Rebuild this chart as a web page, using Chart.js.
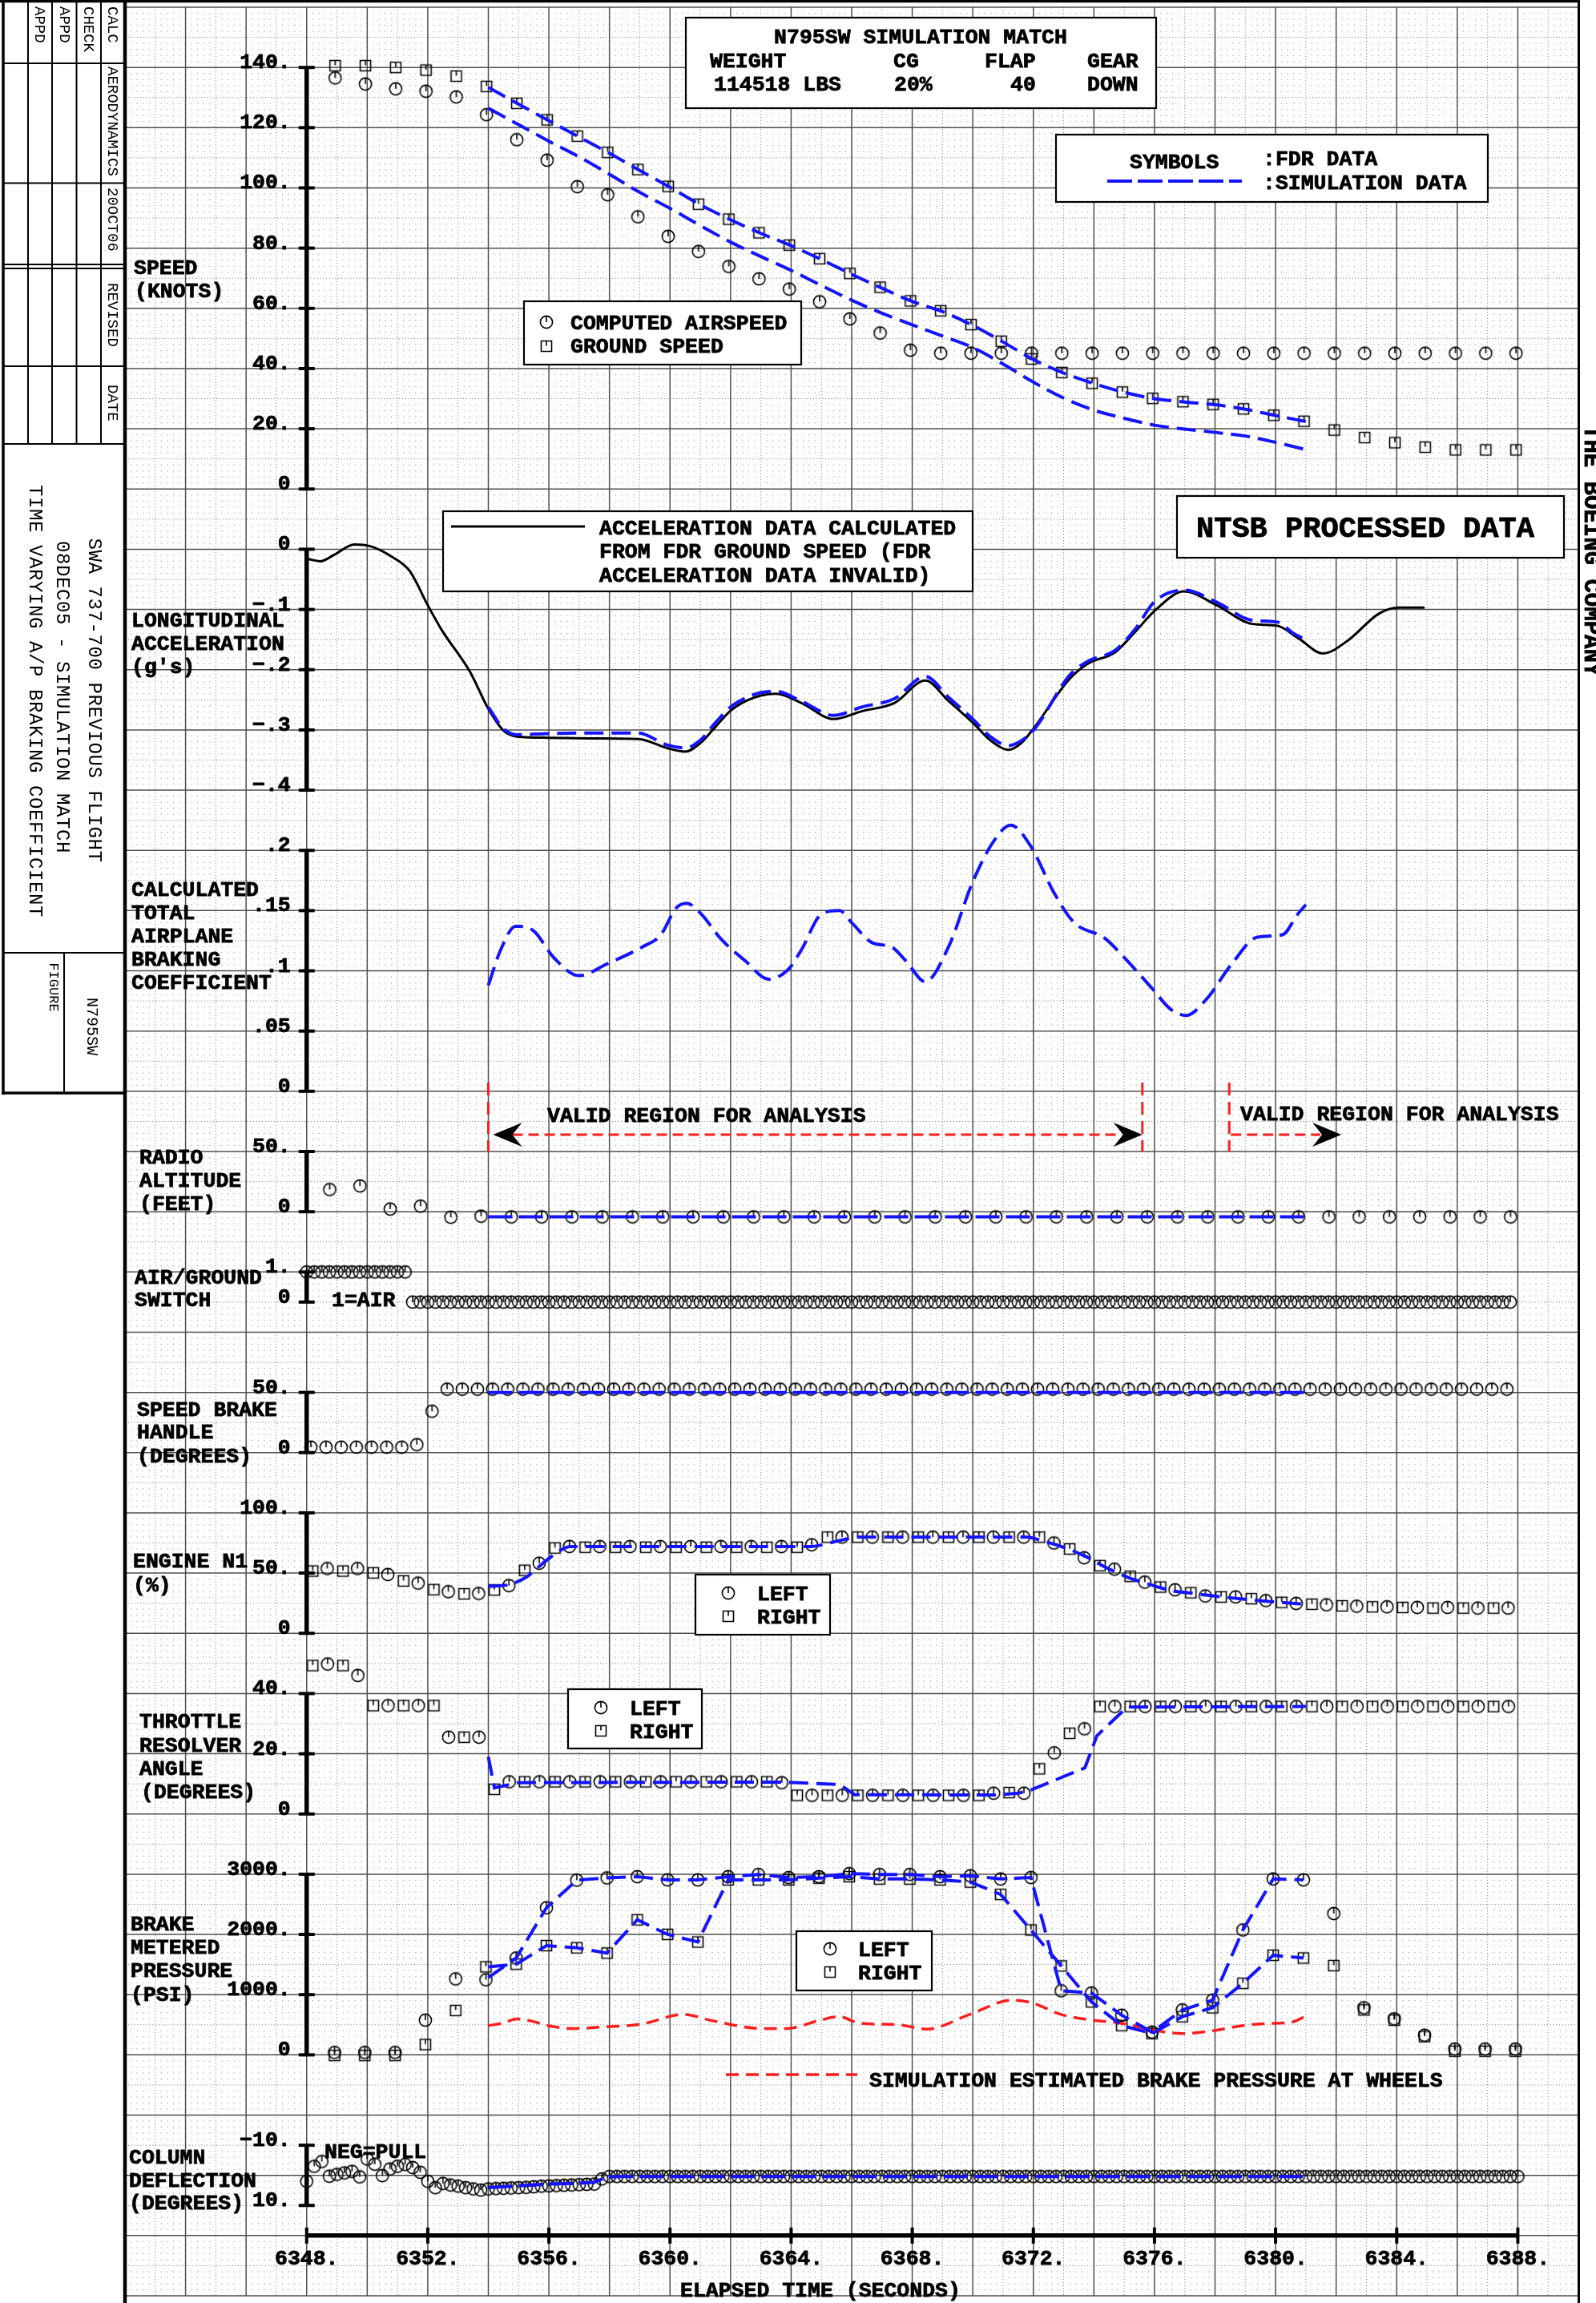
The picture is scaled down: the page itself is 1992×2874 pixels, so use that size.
<!DOCTYPE html>
<html>
<head>
<meta charset="utf-8">
<title>N795SW simulation match - time varying A/P braking coefficient</title>
<script src="https://cdn.jsdelivr.net/npm/chart.js@4.4.1/dist/chart.umd.min.js"></script>
<style>
  html, body { margin: 0; padding: 0; background: #fff; }
  #plot { display: block; width: 1992px; height: 2874px; }
</style>
</head>
<body>
<canvas id="plot" width="1992" height="2874"></canvas>
<script>
// ---------------------------------------------------------------------------
// Time histories (elapsed time in seconds)
// ---------------------------------------------------------------------------

// Airspeed and ground speed, FDR 1 Hz samples
const speedT0 = 6348.94;
const airspeedKts = [136.5, 134.5, 132.9, 132.1, 130.2, 124.3, 116.0, 109.2, 100.4, 97.7,
  90.4, 83.9, 78.9, 73.9, 69.8, 66.4, 62.2, 56.5, 51.8, 46.1,
  45.1, 45.1, 45.1, 45.1, 45.1, 45.1, 45.1, 45.1, 45.1, 45.1,
  45.1, 45.1, 45.1, 45.1, 45.1, 45.1, 45.1, 45.1, 45.1, 45.1];
const groundSpeedKts = [140.6, 140.6, 140.0, 139.1, 137.1, 133.7, 128.1, 122.6, 117.2, 111.8,
  106.1, 100.5, 94.6, 89.6, 85.1, 81.0, 76.5, 71.6, 67.0, 62.5,
  59.2, 54.6, 49.1, 43.2, 38.7, 35.1, 32.2, 30.1, 29.0, 28.1,
  26.6, 24.5, 22.5, 19.6, 17.1, 15.4, 13.9, 13.0, 13.0, 13.0];
const simSpeedT = [6354, 6355, 6356, 6357, 6358, 6359, 6360, 6361, 6362, 6363, 6364, 6365, 6366, 6367,
  6368, 6369, 6370, 6371, 6372, 6373, 6374, 6375, 6376, 6377, 6378, 6379, 6380, 6381];
const simGroundSpeedKts = [133.4, 127.8, 122.3, 116.9, 111.5, 105.8, 100.2, 94.4, 89.4, 84.9, 80.8, 76.2, 71.3, 66.7,
  62.3, 58.9, 54.3, 48.8, 43.0, 38.5, 35.0, 32.1, 30.0, 28.9, 28.0, 26.5, 24.4, 22.4];
const simAirspeedKts = [126.5, 121.0, 115.5, 110.3, 104.5, 98.5, 93.2, 87.5, 82.0, 77.2, 72.6, 67.6, 62.7, 58.4,
  54.5, 50.8, 47.0, 41.5, 35.5, 30.2, 26.2, 23.5, 21.2, 19.9, 18.8, 17.6, 15.5, 13.1];

// Longitudinal acceleration derived from ground speed, and simulation
const accelT = [6348.04, 6348.45, 6348.92, 6349.57, 6350.1, 6350.8, 6351.4, 6352.0, 6352.46, 6353.4,
  6354.0, 6354.5, 6354.95, 6356.0, 6357.5, 6358.96, 6359.9, 6360.5, 6361.0, 6361.5,
  6362.0, 6362.5, 6363.0, 6363.5, 6364.33, 6365.41, 6366.33, 6367.42, 6368.43, 6369.2,
  6370.02, 6370.6, 6371.19, 6371.6, 6372.03, 6373.2, 6373.8, 6374.7, 6375.4, 6376.05,
  6376.97, 6378.06, 6379.23, 6380.06, 6380.73, 6381.57, 6382.4, 6383.41, 6384.08, 6384.92];
const accelG = [-0.016, -0.020, -0.009, 0.008, 0.005, -0.012, -0.036, -0.093, -0.134, -0.204,
  -0.265, -0.301, -0.311, -0.313, -0.314, -0.315, -0.330, -0.336, -0.322, -0.295,
  -0.268, -0.252, -0.243, -0.240, -0.255, -0.282, -0.269, -0.255, -0.218, -0.252,
  -0.289, -0.318, -0.333, -0.322, -0.296, -0.215, -0.190, -0.171, -0.135, -0.100,
  -0.070, -0.093, -0.124, -0.127, -0.147, -0.173, -0.151, -0.107, -0.097, -0.097];
const simAccelT = [6354.0, 6354.5, 6354.95, 6356.0, 6357.5, 6358.96, 6359.9, 6360.5, 6361.0, 6361.5,
  6362.0, 6362.5, 6363.0, 6363.5, 6364.33, 6365.41, 6366.33, 6367.42, 6368.43, 6369.2,
  6370.02, 6370.6, 6371.19, 6371.6, 6372.03, 6373.2, 6373.8, 6374.7, 6375.4, 6376.0,
  6377.0, 6378.06, 6379.23, 6380.06, 6380.6, 6381.0];
const simAccelG = [-0.262, -0.298, -0.308, -0.306, -0.305, -0.305, -0.325, -0.330, -0.317, -0.288,
  -0.262, -0.247, -0.238, -0.236, -0.252, -0.276, -0.262, -0.248, -0.211, -0.246,
  -0.283, -0.312, -0.326, -0.318, -0.299, -0.209, -0.186, -0.168, -0.130, -0.087,
  -0.068, -0.088, -0.118, -0.121, -0.140, -0.150];

// Calculated total airplane braking coefficient
const brakingT = [6354.0, 6354.4, 6354.9, 6355.5, 6356.16, 6356.99, 6357.94, 6359.1, 6359.7, 6360.2,
  6360.55, 6361.0, 6361.7, 6362.5, 6363.25, 6363.9, 6364.33, 6365.0, 6365.6, 6366.0,
  6366.7, 6367.3, 6367.8, 6368.43, 6369.2, 6370.0, 6370.7, 6371.25, 6371.9, 6372.7,
  6373.35, 6374.36, 6375.0, 6375.9, 6376.54, 6377.05, 6377.7, 6378.56, 6379.4, 6380.23,
  6380.73, 6381.0];
const brakingMu = [0.088, 0.117, 0.137, 0.133, 0.111, 0.096, 0.106, 0.120, 0.130, 0.152,
  0.156, 0.148, 0.126, 0.108, 0.093, 0.101, 0.117, 0.147, 0.150, 0.140,
  0.123, 0.120, 0.108, 0.091, 0.120, 0.174, 0.208, 0.221, 0.204, 0.164,
  0.140, 0.127, 0.111, 0.086, 0.068, 0.063, 0.076, 0.106, 0.128, 0.130,
  0.147, 0.155];

// Radio altitude, FDR 1 Hz
const radAltT0 = 6348.76;
const radAltFt = [18.4, 21.4, 2.2, 4.6, -4.6, -3.7, -4.3, -4.3, -4.3, -4.3,
  -4.3, -4.3, -4.3, -4.3, -4.3, -4.3, -4.3, -4.3, -4.3, -4.3,
  -4.3, -4.3, -4.3, -4.3, -4.3, -4.3, -4.3, -4.3, -4.3, -4.3,
  -4.3, -4.3, -4.3, -4.3, -4.3, -4.3, -4.3, -4.3, -4.3, -4.3];
const simRadAltT = [6354, 6381];
const simRadAltFt = [-4.3, -4.3];

// Air/ground switch, FDR 4 Hz (1 = air)
const airGroundT0 = 6348.0, airGroundHz = 4;
const airGround = [1, 1, 1, 1, 1, 1, 1, 1, 1, 1, 1, 1, 1, 1,
  0, 0, 0, 0, 0, 0, 0, 0, 0, 0, 0, 0, 0, 0, 0, 0, 0, 0, 0, 0,
  0, 0, 0, 0, 0, 0, 0, 0, 0, 0, 0, 0, 0, 0, 0, 0, 0, 0, 0, 0,
  0, 0, 0, 0, 0, 0, 0, 0, 0, 0, 0, 0, 0, 0, 0, 0, 0, 0, 0, 0,
  0, 0, 0, 0, 0, 0, 0, 0, 0, 0, 0, 0, 0, 0, 0, 0, 0, 0, 0, 0,
  0, 0, 0, 0, 0, 0, 0, 0, 0, 0, 0, 0, 0, 0, 0, 0, 0, 0, 0, 0,
  0, 0, 0, 0, 0, 0, 0, 0, 0, 0, 0, 0, 0, 0, 0, 0, 0, 0, 0, 0,
  0, 0, 0, 0, 0, 0, 0, 0, 0, 0, 0, 0, 0, 0, 0, 0, 0, 0, 0, 0,
  0, 0, 0, 0, 0, 0];

// Speed brake handle, FDR 2 Hz
const speedBrakeT0 = 6348.14, speedBrakeHz = 2;
const speedBrakeDeg = [4.5, 4.5, 4.5, 4.5, 4.5, 4.5, 4.5, 6.6, 34.3,
  52.7, 52.7, 52.7, 52.7, 52.7, 52.7, 52.7, 52.7, 52.7, 52.7, 52.7, 52.7, 52.7, 52.7, 52.7, 52.7, 52.7, 52.7, 52.7, 52.7,
  52.7, 52.7, 52.7, 52.7, 52.7, 52.7, 52.7, 52.7, 52.7, 52.7, 52.7, 52.7, 52.7, 52.7, 52.7, 52.7, 52.7, 52.7, 52.7, 52.7,
  52.7, 52.7, 52.7, 52.7, 52.7, 52.7, 52.7, 52.7, 52.7, 52.7, 52.7, 52.7, 52.7, 52.7, 52.7, 52.7, 52.7, 52.7, 52.7, 52.7,
  52.7, 52.7, 52.7, 52.7, 52.7, 52.7, 52.7, 52.7, 52.7, 52.7, 52.7];
const simSpeedBrakeT = [6354, 6381];
const simSpeedBrakeDeg = [50, 50];

// Engine N1, FDR 1 Hz per engine (left and right sampled half a second apart)
const n1LeftT0 = 6348.68, n1RightT0 = 6348.2;
const n1Left = [53.8, 53.8, 48.8, 41.7, 34.6, 33.1, 39.6, 58.2, 72.1, 72.0,
  72.0, 72.0, 72.0, 72.0, 72.0, 72.0, 73.5, 79.8, 79.8, 79.8,
  79.8, 79.8, 79.8, 79.8, 75.0, 62.7, 53.2, 42.5, 36.1, 31.0,
  30.2, 27.2, 24.8, 23.7, 22.5, 22.0, 21.5, 21.5, 21.0, 21.0];
const n1Right = [51.7, 51.7, 50.2, 43.5, 36.3, 32.8, 36.0, 52.3, 70.9, 71.5,
  71.5, 71.5, 71.5, 71.5, 71.5, 71.5, 71.5, 79.8, 79.8, 79.8,
  79.8, 79.8, 79.8, 79.8, 79.8, 70.0, 56.2, 47.3, 38.4, 33.7,
  30.2, 28.7, 25.7, 24.2, 22.8, 22.0, 21.5, 21.0, 21.0, 21.0];
const simN1T = [6354.0, 6354.69, 6355.24, 6355.71, 6356.19, 6356.71, 6364.65, 6365.6, 6366.2, 6371.79,
  6372.27, 6372.99, 6373.7, 6374.42, 6375.13, 6375.85, 6376.56, 6377.27, 6378.23, 6379.18, 6380.13, 6380.97];
const simN1 = [39.0, 40.5, 46.4, 56.2, 65.6, 72.1, 72.1, 77.0, 79.8, 79.8,
  77.0, 71.5, 64.1, 54.4, 46.4, 40.5, 35.5, 33.1, 30.2, 27.8, 25.7, 24.2];

// Throttle resolver angle, FDR 1 Hz per engine
const traLeftT0 = 6348.69, traRightT0 = 6348.2;
const traLeft = [49.8, 46.0, 36.0, 36.0, 25.5, 25.5, 10.7, 10.7, 10.7, 10.7,
  10.7, 10.7, 10.7, 10.7, 10.7, 10.4, 6.2, 6.2, 6.2, 6.2,
  6.2, 6.2, 6.9, 6.9, 20.3, 28.3, 35.7, 35.7, 35.7, 35.7,
  35.7, 35.7, 35.7, 35.7, 35.7, 35.7, 35.7, 35.7, 35.7, 35.7];
const traRight = [49.3, 49.3, 36.0, 36.0, 36.0, 25.5, 8.2, 10.7, 10.7, 10.7,
  10.7, 10.7, 10.7, 10.7, 10.7, 10.7, 6.2, 6.2, 6.2, 6.2,
  6.2, 6.2, 6.2, 7.1, 15.0, 26.8, 35.7, 35.7, 35.7, 35.7,
  35.7, 35.7, 35.7, 35.7, 35.7, 35.7, 35.7, 35.7, 35.7, 35.7];
const simTraT = [6354.0, 6354.2, 6355.0, 6363.7, 6365.6, 6366.1, 6370.7, 6371.5, 6371.9, 6373.7, 6374.1, 6375.1, 6381.0];
const simTra = [19.0, 8.7, 10.4, 10.6, 9.8, 6.4, 6.3, 6.9, 7.9, 15.3, 26.0, 35.5, 35.7];

// Brake metered pressure, FDR 1 Hz per side
const brakeT0 = 6348.92;
const brakeLeftPsi = [40, 40, 40, 577, 1262, 1248, 1609, 2443, 2901, 2938,
  2959, 2906, 2906, 2959, 2996, 2944, 2959, 3010, 2996, 2996,
  2959, 2974, 2921, 2944, 1064, 1027, 658, 377, 746, 909,
  2074, 2921, 2906, 2347, 783, 598, 326, 97, 97, 97];
const brakeRightPsi = [-10, -10, -10, 172, 738, 1462, 1506, 1815, 1778, 1690,
  2243, 2001, 1875, 2906, 2906, 2906, 2935, 2959, 2921, 2921,
  2906, 2870, 2664, 2074, 1477, 879, 488, 355, 635, 783,
  1188, 1654, 1609, 1483, 746, 577, 304, 61, 61, 61];
const simBrakeT = [6354.0, 6354.92, 6355.92, 6356.92, 6357.92, 6358.92, 6359.92, 6360.92, 6361.92, 6362.92,
  6363.92, 6364.92, 6365.92, 6366.92, 6367.92, 6368.92, 6369.92, 6370.92, 6371.92, 6372.92,
  6373.92, 6374.92, 6375.92, 6376.92, 6377.92, 6378.92, 6379.92, 6380.92];
const simBrakeLeftPsi = [1285, 1609, 2443, 2901, 2938, 2959, 2906, 2906, 2959, 2996,
  2944, 2959, 3010, 2996, 2996, 2959, 2974, 2921, 2944, 1064,
  1027, 658, 377, 746, 909, 2074, 2921, 2906];
const simBrakeRightPsi = [1462, 1506, 1815, 1778, 1690, 2243, 2001, 1875, 2906, 2906,
  2906, 2935, 2959, 2921, 2921, 2906, 2870, 2664, 2074, 1477,
  879, 488, 355, 635, 783, 1188, 1654, 1609];
// Simulation estimated brake pressure at the wheels
const wheelT = [6354.0, 6354.47, 6354.94, 6355.42, 6355.96, 6356.77, 6357.85, 6359.03, 6360.44, 6361.45,
  6363.06, 6363.86, 6364.87, 6365.57, 6366.28, 6367.48, 6368.49, 6369.9, 6371.3, 6371.91,
  6372.92, 6373.92, 6374.93, 6375.93, 6376.92, 6377.92, 6378.93, 6379.94, 6380.56, 6380.96];
const wheelPsi = [488, 525, 598, 562, 488, 437, 466, 510, 672, 562,
  437, 437, 562, 635, 525, 503, 429, 672, 909, 870,
  672, 577, 525, 415, 355, 400, 488, 525, 547, 635];

// Column deflection, FDR 4 Hz (negative = pull)
const columnT0 = 6348.0, columnHz = 4;
const columnDeg = [2.0, -3.0, -4.6, 0.3, -0.3, -0.8, -1.3, 0.5, -5.4, -3.7,
  0.1, -2.1, -3.0, -3.6, -2.6, -1.0, 2.0, 4.1, 2.7, 3.2,
  3.6, 4.1, 4.5, 4.9, 4.5, 4.4, 4.3, 4.2, 4.1, 4.0,
  3.8, 3.6, 3.5, 3.4, 3.3, 3.2, 3.1, 3.0, 2.9, 1.2,
  0.4, 0.4, 0.4, 0.4, 0.4, 0.4, 0.4, 0.4, 0.4, 0.4, 0.4, 0.4, 0.4, 0.4, 0.4, 0.4, 0.4, 0.4, 0.4, 0.4,
  0.4, 0.4, 0.4, 0.4, 0.4, 0.4, 0.4, 0.4, 0.4, 0.4, 0.4, 0.4, 0.4, 0.4, 0.4, 0.4, 0.4, 0.4, 0.4, 0.4,
  0.4, 0.4, 0.4, 0.4, 0.4, 0.4, 0.4, 0.4, 0.4, 0.4, 0.4, 0.4, 0.4, 0.4, 0.4, 0.4, 0.4, 0.4, 0.4, 0.4,
  0.4, 0.4, 0.4, 0.4, 0.4, 0.4, 0.4, 0.4, 0.4, 0.4, 0.4, 0.4, 0.4, 0.4, 0.4, 0.4, 0.4, 0.4, 0.4, 0.4,
  0.4, 0.4, 0.4, 0.4, 0.4, 0.4, 0.4, 0.4, 0.4, 0.4, 0.4, 0.4, 0.4, 0.4, 0.4, 0.4, 0.4, 0.4, 0.4, 0.4,
  0.4, 0.4, 0.4, 0.4, 0.4, 0.4, 0.4, 0.4, 0.4, 0.4, 0.4, 0.4, 0.4, 0.4, 0.4, 0.4, 0.4, 0.4, 0.4, 0.4,
  0.4];
const simColumnT = [6354.0, 6355.0, 6356.0, 6357.0, 6357.5, 6357.9, 6358.4, 6381.0];
const simColumnDeg = [4.1, 3.5, 2.9, 2.6, 2.3, 0.6, 0.4, 0.4];

// Analysis windows
const validWindows = [[6354.0, 6375.6], [6378.47, 6382.17]];

// Axis ticks and their printed labels
const timeTicks = [6348, 6352, 6356, 6360, 6364, 6368, 6372, 6376, 6380, 6384, 6388];
const timeTickLabels = ['6348.', '6352.', '6356.', '6360.', '6364.', '6368.', '6372.', '6376.', '6380.', '6384.', '6388.'];
const speedTicks = [0, 20, 40, 60, 80, 100, 120, 140];
const speedTickLabels = ['0', '20.', '40.', '60.', '80.', '100.', '120.', '140.'];
const accelTicks = [0, -0.1, -0.2, -0.3, -0.4];
const accelTickLabels = ['0', '\u2212.1', '\u2212.2', '\u2212.3', '\u2212.4'];
const brakingTicks = [0, 0.05, 0.1, 0.15, 0.2];
const brakingTickLabels = ['0', '.05', '.1', '.15', '.2'];
const radAltTicks = [0, 50];
const radAltTickLabels = ['0', '50.'];
const airGroundTicks = [0, 1];
const airGroundTickLabels = ['0', '1.'];
const speedBrakeTicks = [0, 50];
const speedBrakeTickLabels = ['0', '50.'];
const n1Ticks = [0, 50, 100];
const n1TickLabels = ['0', '50.', '100.'];
const traTicks = [0, 20, 40];
const traTickLabels = ['0', '20.', '40.'];
const brakePsiTicks = [0, 1000, 2000, 3000];
const brakePsiTickLabels = ['0', '1000.', '2000.', '3000.'];
const columnTicks = [-10, 10];
const columnTickLabels = ['\u221210.', '10.'];

// ---------------------------------------------------------------------------
// Styling
// ---------------------------------------------------------------------------
const BLUE = '#1414ff';
const RED = '#ff1e1e';
const MONO = '"Liberation Mono", "DejaVu Sans Mono", monospace';
const FONT_B = 'bold 26.5px ' + MONO;
const AXIS_T = 6348;            // vertical axes are drawn at this time
const T_MIN = 6342, T_MAX = 6390; // extent of the graph paper
const ROWS = 38;                // graph paper squares, top to bottom

const series = (t0, hz, vals) => vals.map((v, i) => ({ x: t0 + i / hz, y: v }));
const pairs = (ts, vals) => ts.map((t, i) => ({ x: t, y: vals[i] }));

function makeSymbol(kind) {
  const c = document.createElement('canvas');
  c.width = 20; c.height = 20;
  const g = c.getContext('2d');
  g.strokeStyle = '#000';
  g.lineWidth = 1.6;
  g.beginPath();
  if (kind === 'circle') {
    g.arc(10, 10, 7.6, 0, Math.PI * 2);
    g.moveTo(10, 2.4); g.lineTo(10, 10);
  } else {
    g.rect(3.5, 3.5, 13, 13);
    g.moveTo(10, 3.5); g.lineTo(10, 9.5);
  }
  g.stroke();
  return c;
}
const CIRCLE = makeSymbol('circle');
const SQUARE = makeSymbol('square');

function fdr(data, yAxisID, sym) {
  return { type: 'scatter', data, yAxisID, pointStyle: sym, pointRadius: 8, showLine: false, order: 2 };
}
function simLine(data, yAxisID, extra) {
  return Object.assign({ type: 'line', data, yAxisID, borderColor: BLUE, borderWidth: 4,
    borderDash: [24, 10], pointRadius: 0, fill: false, tension: 0, order: 1 }, extra || {});
}

const datasets = [
  fdr(series(speedT0, 1, airspeedKts), 'ySpeed', CIRCLE),
  fdr(series(speedT0, 1, groundSpeedKts), 'ySpeed', SQUARE),
  simLine(pairs(simSpeedT, simGroundSpeedKts), 'ySpeed', { cubicInterpolationMode: 'monotone' }),
  simLine(pairs(simSpeedT, simAirspeedKts), 'ySpeed', { cubicInterpolationMode: 'monotone' }),

  { type: 'line', data: pairs(accelT, accelG), yAxisID: 'yAccel', borderColor: '#000', borderWidth: 3,
    pointRadius: 0, fill: false, cubicInterpolationMode: 'monotone', order: 1 },
  simLine(pairs(simAccelT, simAccelG), 'yAccel', { cubicInterpolationMode: 'monotone', order: 0 }),

  simLine(pairs(brakingT, brakingMu), 'yBraking', { cubicInterpolationMode: 'monotone' }),

  fdr(series(radAltT0, 1, radAltFt), 'yRadAlt', CIRCLE),
  simLine(pairs(simRadAltT, simRadAltFt), 'yRadAlt', { borderDash: [30, 8] }),

  fdr(series(airGroundT0, airGroundHz, airGround), 'yAirGround', CIRCLE),

  fdr(series(speedBrakeT0, speedBrakeHz, speedBrakeDeg), 'ySpeedBrake', CIRCLE),
  simLine(pairs(simSpeedBrakeT, simSpeedBrakeDeg), 'ySpeedBrake', { borderDash: [30, 8] }),

  fdr(series(n1LeftT0, 1, n1Left), 'yN1', CIRCLE),
  fdr(series(n1RightT0, 1, n1Right), 'yN1', SQUARE),
  simLine(pairs(simN1T, simN1), 'yN1', { cubicInterpolationMode: 'monotone' }),

  fdr(series(traLeftT0, 1, traLeft), 'yTra', CIRCLE),
  fdr(series(traRightT0, 1, traRight), 'yTra', SQUARE),
  simLine(pairs(simTraT, simTra), 'yTra'),

  fdr(series(brakeT0, 1, brakeLeftPsi), 'yBrakePsi', CIRCLE),
  fdr(series(brakeT0, 1, brakeRightPsi), 'yBrakePsi', SQUARE),
  simLine(pairs(simBrakeT, simBrakeLeftPsi), 'yBrakePsi'),
  simLine(pairs(simBrakeT, simBrakeRightPsi), 'yBrakePsi'),
  { type: 'line', data: pairs(wheelT, wheelPsi), yAxisID: 'yBrakePsi', borderColor: RED, borderWidth: 3.5,
    borderDash: [16, 9], pointRadius: 0, fill: false, cubicInterpolationMode: 'monotone', order: 1 },

  fdr(series(columnT0, columnHz, columnDeg), 'yColumn', CIRCLE),
  simLine(pairs(simColumnT, simColumnDeg), 'yColumn', { borderDash: [30, 8] }),
];

// Every panel scale spans the full paper height; min/max place each panel on its own band of squares.
const hidden = (min, max, extra) => Object.assign({ type: 'linear', min, max, display: false }, extra || {});
const scales = {
  x: hidden(T_MIN, T_MAX),
  y: hidden(0, 1),
  yGrid: hidden(0, ROWS, { reverse: true }),
  ySpeed: hidden(-600, 160),
  yAccel: hidden(-2.9, 0.9),
  yBraking: hidden(-1.0, 0.9),
  yRadAlt: hidden(-900, 1000),
  yAirGround: hidden(-33, 43),
  ySpeedBrake: hidden(-700, 1200),
  yN1: hidden(-550, 1350),
  yTra: hidden(-160, 600),
  yBrakePsi: hidden(-4000, 34000),
  yColumn: hidden(-720, 40, { reverse: true }),
};

const panelAxes = [
  { id: 'ySpeed', ticks: speedTicks, labels: speedTickLabels },
  { id: 'yAccel', ticks: accelTicks, labels: accelTickLabels },
  { id: 'yBraking', ticks: brakingTicks, labels: brakingTickLabels },
  { id: 'yRadAlt', ticks: radAltTicks, labels: radAltTickLabels },
  { id: 'yAirGround', ticks: airGroundTicks, labels: airGroundTickLabels },
  { id: 'ySpeedBrake', ticks: speedBrakeTicks, labels: speedBrakeTickLabels },
  { id: 'yN1', ticks: n1Ticks, labels: n1TickLabels },
  { id: 'yTra', ticks: traTicks, labels: traTickLabels },
  { id: 'yBrakePsi', ticks: brakePsiTicks, labels: brakePsiTickLabels },
  { id: 'yColumn', ticks: columnTicks, labels: columnTickLabels },
];

// ---------------------------------------------------------------------------
// Drawing helpers
// ---------------------------------------------------------------------------
function text(ctx, s, x, y, opt) {
  opt = opt || {};
  ctx.save();
  const font = opt.font || FONT_B;
  ctx.font = font;
  ctx.fillStyle = '#000';
  ctx.strokeStyle = '#000';
  ctx.textAlign = opt.align || 'left';
  ctx.textBaseline = opt.base || 'alphabetic';
  if (opt.ls) ctx.letterSpacing = opt.ls + 'px';
  if (opt.rot) { ctx.translate(x, y); ctx.rotate(opt.rot); x = 0; y = 0; }
  ctx.fillText(s, x, y);
  if (font.startsWith('bold')) {
    // plotter lettering is heavier than the bold face
    ctx.lineWidth = 0.8;
    ctx.strokeText(s, x, y);
  }
  ctx.restore();
}
function seg(ctx, x1, y1, x2, y2) {
  ctx.beginPath(); ctx.moveTo(x1, y1); ctx.lineTo(x2, y2); ctx.stroke();
}
function box(ctx, x, y, w, h) {
  ctx.save();
  ctx.fillStyle = '#fff'; ctx.fillRect(x, y, w, h);
  ctx.strokeStyle = '#000'; ctx.lineWidth = 2.2; ctx.strokeRect(x, y, w, h);
  ctx.restore();
}
function arrowHead(ctx, tipX, y, dir) {
  // dir = -1 points left, +1 points right
  ctx.beginPath();
  ctx.moveTo(tipX, y);
  ctx.lineTo(tipX - dir * 36, y - 15);
  ctx.lineTo(tipX - dir * 24, y);
  ctx.lineTo(tipX - dir * 36, y + 15);
  ctx.closePath();
  ctx.fill();
}

function drawPaper(chart) {
  const ctx = chart.ctx, xs = chart.scales.x, yg = chart.scales.yGrid;
  const { left, right, top, bottom } = chart.chartArea;
  ctx.save();
  ctx.fillStyle = '#fff';
  ctx.fillRect(0, 0, chart.width, chart.height);

  const colX = [], rowY = [];
  for (let i = 0; i <= (T_MAX - T_MIN) * 5; i++) colX.push(xs.getPixelForValue(T_MIN + i * 0.2));
  for (let j = 0; j <= ROWS * 10; j++) rowY.push(yg.getPixelForValue(j / 10));

  // tenth-of-a-square dot lattice
  ctx.fillStyle = '#a4a4a4';
  for (let i = 1; i < colX.length - 1; i++) {
    if (i % 5 === 0) continue;
    for (let j = 1; j < rowY.length - 1; j++) {
      if (j % 5 === 0) continue;
      ctx.fillRect(colX[i] - 0.6, rowY[j] - 0.6, 1.2, 1.2);
    }
  }
  // half-square dotted rules
  ctx.strokeStyle = '#8e8e8e';
  ctx.lineWidth = 1;
  ctx.setLineDash([1.3, 2.5]);
  for (let i = 5; i < colX.length; i += 10) seg(ctx, colX[i], top, colX[i], bottom);
  for (let j = 5; j < rowY.length; j += 10) seg(ctx, left, rowY[j], right, rowY[j]);
  // full squares
  ctx.setLineDash([]);
  ctx.strokeStyle = '#4e4e4e';
  ctx.lineWidth = 1.5;
  for (let i = 0; i < colX.length; i += 10) seg(ctx, colX[i], top, colX[i], bottom);
  for (let j = 0; j < rowY.length; j += 10) seg(ctx, left, rowY[j], right, rowY[j]);
  ctx.restore();
}

function drawAxes(chart) {
  const ctx = chart.ctx, xs = chart.scales.x, yg = chart.scales.yGrid;
  const x0 = xs.getPixelForValue(AXIS_T);
  ctx.save();
  ctx.strokeStyle = '#000';
  ctx.lineCap = 'butt';
  for (const a of panelAxes) {
    const s = chart.scales[a.id];
    const ys = a.ticks.map(v => s.getPixelForValue(v));
    ctx.lineWidth = 5.5;
    seg(ctx, x0, Math.min(...ys), x0, Math.max(...ys));
    ctx.lineWidth = 4;
    ys.forEach((y, k) => {
      seg(ctx, x0 - 10, y, x0 + 10, y);
      text(ctx, a.labels[k], x0 - 20, y + 1, { align: 'right' });
    });
  }
  // elapsed time axis
  const yAx = yg.getPixelForValue(37);
  const xt = timeTicks.map(t => xs.getPixelForValue(t));
  ctx.lineWidth = 5.5;
  seg(ctx, xt[0], yAx, xt[xt.length - 1], yAx);
  ctx.lineWidth = 4;
  xt.forEach((x, k) => {
    seg(ctx, x, yAx - 10, x, yAx + 10);
    text(ctx, timeTickLabels[k], x, yAx + 36, { align: 'center' });
  });
  text(ctx, 'ELAPSED TIME (SECONDS)', 849, 2866);
  ctx.restore();
}

function drawAnnotations(chart) {
  const ctx = chart.ctx, xs = chart.scales.x;
  ctx.save();

  // header and legend boxes
  box(ctx, 856, 22, 587, 113);
  text(ctx, 'N795SW SIMULATION MATCH', 1149, 54, { align: 'center' });
  text(ctx, 'WEIGHT', 886, 84); text(ctx, 'CG', 1115, 84); text(ctx, 'FLAP', 1229, 84); text(ctx, 'GEAR', 1357, 84);
  text(ctx, '114518 LBS', 891, 113); text(ctx, '20%', 1116, 113); text(ctx, '40', 1261, 113); text(ctx, 'DOWN', 1357, 113);

  box(ctx, 1318, 168, 539, 84);
  text(ctx, 'SYMBOLS', 1410, 210);
  text(ctx, ':FDR DATA', 1576, 206);
  text(ctx, ':SIMULATION DATA', 1576, 236);
  ctx.strokeStyle = BLUE; ctx.lineWidth = 4; ctx.setLineDash([31, 7]);
  seg(ctx, 1382, 226, 1550, 226);
  ctx.setLineDash([]);

  box(ctx, 654, 376, 346, 79);
  ctx.drawImage(CIRCLE, 672, 392); ctx.drawImage(SQUARE, 672, 422);
  text(ctx, 'COMPUTED AIRSPEED', 712, 411);
  text(ctx, 'GROUND SPEED', 712, 440);

  box(ctx, 553, 638, 661, 100);
  ctx.strokeStyle = '#000'; ctx.lineWidth = 3;
  seg(ctx, 563, 657, 730, 657);
  text(ctx, 'ACCELERATION DATA CALCULATED', 748, 667);
  text(ctx, 'FROM FDR GROUND SPEED (FDR', 748, 696);
  text(ctx, 'ACCELERATION DATA INVALID)', 748, 726);

  box(ctx, 1469, 619, 483, 77);
  text(ctx, 'NTSB PROCESSED DATA', 1493, 670, { font: 'bold 37px ' + MONO });

  box(ctx, 868, 1965, 168, 75);
  ctx.drawImage(CIRCLE, 899, 1978); ctx.drawImage(SQUARE, 899, 2007);
  text(ctx, 'LEFT', 945, 1997); text(ctx, 'RIGHT', 945, 2026);

  box(ctx, 709, 2108, 167, 74);
  ctx.drawImage(CIRCLE, 740, 2121); ctx.drawImage(SQUARE, 740, 2150);
  text(ctx, 'LEFT', 786, 2140); text(ctx, 'RIGHT', 786, 2169);

  box(ctx, 994, 2410, 169, 74);
  ctx.drawImage(CIRCLE, 1026, 2422); ctx.drawImage(SQUARE, 1026, 2451);
  text(ctx, 'LEFT', 1071, 2441); text(ctx, 'RIGHT', 1071, 2470);

  ctx.strokeStyle = RED; ctx.lineWidth = 3.5; ctx.setLineDash([16, 9]);
  seg(ctx, 906, 2589, 1070, 2589);
  ctx.setLineDash([]);
  text(ctx, 'SIMULATION ESTIMATED BRAKE PRESSURE AT WHEELS', 1085, 2604);

  // panel titles
  text(ctx, 'SPEED', 167, 342); text(ctx, '(KNOTS)', 168, 371);
  text(ctx, 'LONGITUDINAL', 164, 782); text(ctx, 'ACCELERATION', 164, 811); text(ctx, "(g's)", 164, 840);
  ['CALCULATED', 'TOTAL', 'AIRPLANE', 'BRAKING', 'COEFFICIENT'].forEach((s, k) => text(ctx, s, 164, 1118 + 29 * k));
  text(ctx, 'RADIO', 174, 1452); text(ctx, 'ALTITUDE', 174, 1481); text(ctx, '(FEET)', 174, 1510);
  text(ctx, 'AIR/GROUND', 168, 1602); text(ctx, 'SWITCH', 168, 1630); text(ctx, '1=AIR', 414, 1630);
  text(ctx, 'SPEED BRAKE', 171, 1767); text(ctx, 'HANDLE', 171, 1795); text(ctx, '(DEGREES)', 171, 1825);
  text(ctx, 'ENGINE N1', 166, 1956); text(ctx, '(%)', 166, 1986);
  text(ctx, 'THROTTLE', 174, 2156); text(ctx, 'RESOLVER', 174, 2186); text(ctx, 'ANGLE', 174, 2215); text(ctx, '(DEGREES)', 176, 2244);
  text(ctx, 'BRAKE', 163, 2409); text(ctx, 'METERED', 163, 2438); text(ctx, 'PRESSURE', 163, 2467); text(ctx, '(PSI)', 163, 2497);
  text(ctx, 'COLUMN', 161, 2700); text(ctx, 'DEFLECTION', 161, 2729); text(ctx, '(DEGREES)', 161, 2757);
  text(ctx, 'NEG=PULL', 405, 2693);

  // analysis windows
  const yArrow = 1416;
  ctx.strokeStyle = RED; ctx.lineWidth = 3;
  ctx.setLineDash([16, 8]);
  const a0 = xs.getPixelForValue(validWindows[0][0]);
  const a1 = xs.getPixelForValue(validWindows[0][1]);
  const b0 = xs.getPixelForValue(validWindows[1][0]);
  const b1 = xs.getPixelForValue(validWindows[1][1]);
  [a0, a1, b0].forEach(x => seg(ctx, x, 1351, x, 1437));
  ctx.setLineDash([13, 7]);
  seg(ctx, a0 + 30, yArrow, a1 - 26, yArrow);
  seg(ctx, b0 + 2, yArrow, b1 - 26, yArrow);
  ctx.setLineDash([]);
  ctx.fillStyle = '#000';
  arrowHead(ctx, a0 + 6, yArrow, -1);
  arrowHead(ctx, a1, yArrow, 1);
  arrowHead(ctx, b1, yArrow, 1);
  text(ctx, 'VALID REGION FOR ANALYSIS', 683, 1400);
  text(ctx, 'VALID REGION FOR ANALYSIS', 1548, 1398);

  ctx.restore();
}

function drawTitleBlock(chart) {
  const ctx = chart.ctx;
  const REG = (n) => n + 'px ' + MONO;
  ctx.save();
  ctx.strokeStyle = '#000';
  ctx.lineWidth = 2;
  [35, 65, 95.5, 126].forEach(x => seg(ctx, x, 0, x, 554));
  [79, 228.5, 330, 335, 457, 554, 1189].forEach(y => seg(ctx, 4, y, 156, y));
  seg(ctx, 80, 1189, 80, 1364);
  ctx.lineWidth = 3.5;
  seg(ctx, 4, 0, 4, 1366);
  seg(ctx, 2, 1364, 156, 1364);

  const R = Math.PI / 2;
  const small = { font: REG(19), base: 'middle', rot: R };
  text(ctx, 'APPD', 49, 8, small);
  text(ctx, 'APPD', 80, 8, small);
  text(ctx, 'CHECK', 110.5, 8, small);
  text(ctx, 'CALC', 140.5, 8, small);
  text(ctx, 'AERODYNAMICS', 140.5, 83, small);
  text(ctx, '20OCT06', 140.5, 234, small);
  text(ctx, 'REVISED', 140.5, 353, small);
  text(ctx, 'DATE', 140.5, 480, small);

  const big = { font: REG(24), base: 'middle', rot: R, align: 'center', ls: 0.6 };
  text(ctx, 'SWA 737-700 PREVIOUS FLIGHT', 117, 874, big);
  text(ctx, '08DEC05 - SIMULATION MATCH', 77, 870, big);
  text(ctx, 'TIME VARYING A/P BRAKING COEFFICIENT', 43, 875, big);
  text(ctx, 'FIGURE', 66, 1232, { font: REG(17), base: 'middle', rot: R, align: 'center' });
  text(ctx, 'N795SW', 114, 1281, { font: REG(20), base: 'middle', rot: R, align: 'center' });

  // plot frame
  ctx.lineWidth = 3.5;
  seg(ctx, 0, 1.5, 1972, 1.5);
  ctx.lineWidth = 4.5;
  seg(ctx, 156, 0, 156, 2874);
  ctx.lineWidth = 3;
  seg(ctx, 1970.5, 0, 1970.5, 2874);

  text(ctx, 'THE BOEING COMPANY', 1978, 531, { font: 'bold 29px ' + MONO, rot: R });
  ctx.restore();
}

const sheet = {
  id: 'sheet',
  beforeDraw(chart) { drawPaper(chart); },
  beforeDatasetsDraw(chart) { drawAxes(chart); },
  afterDatasetsDraw(chart) { drawAnnotations(chart); drawTitleBlock(chart); },
};

new Chart(document.getElementById('plot'), {
  type: 'scatter',
  data: { datasets },
  options: {
    responsive: false,
    animation: false,
    devicePixelRatio: 1,
    events: [],
    layout: { padding: { left: 156, right: 22, top: 2.5, bottom: 0 } },
    plugins: { legend: { display: false }, tooltip: { enabled: false }, title: { display: false } },
    scales,
  },
  plugins: [sheet],
});
</script>
</body>
</html>
